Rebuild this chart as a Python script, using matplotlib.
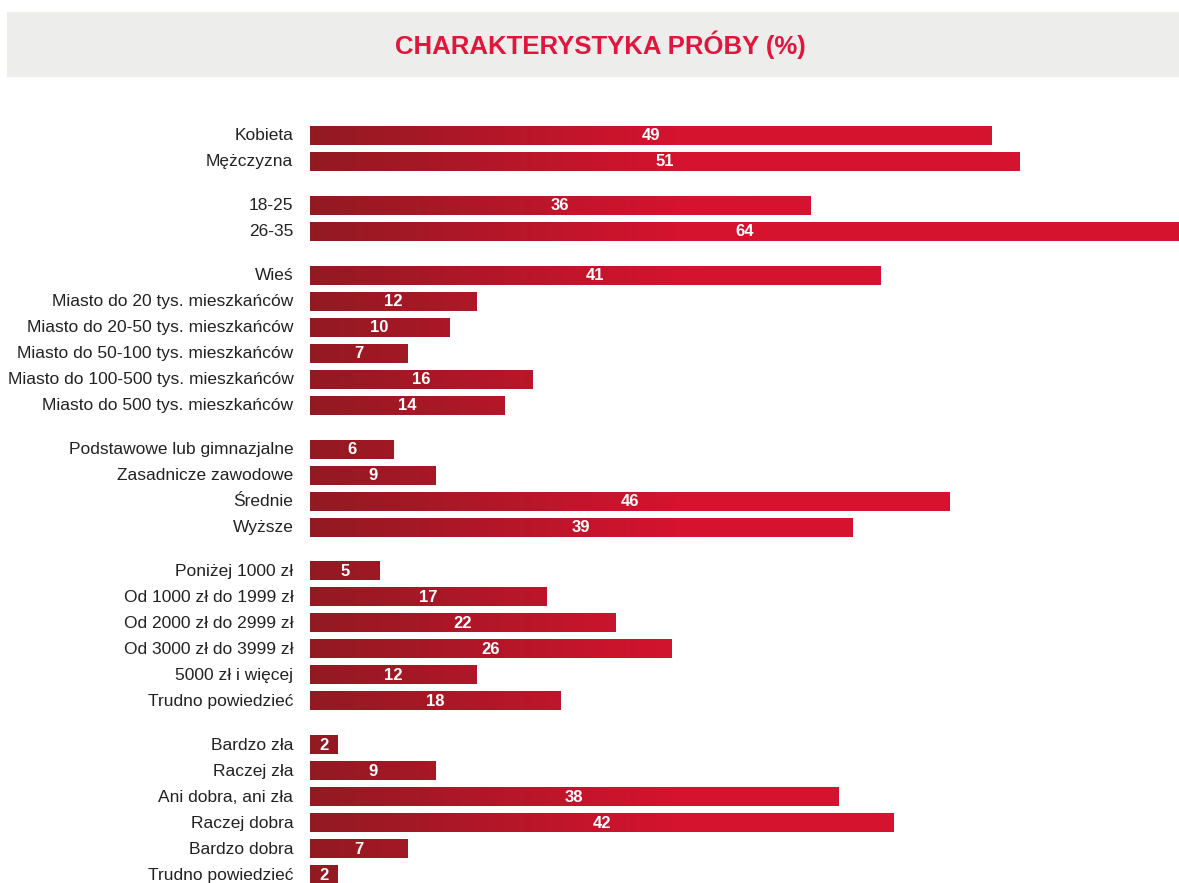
import numpy as np
import matplotlib.pyplot as plt
from matplotlib.colors import LinearSegmentedColormap
from matplotlib.patches import Rectangle
from matplotlib import font_manager

# --- dane ---
groups = [
    ["Kobieta", "Mężczyzna"],
    ["18-25", "26-35"],
    ["Wieś", "Miasto do 20 tys. mieszkańców", "Miasto do 20-50 tys. mieszkańców",
     "Miasto do 50-100 tys. mieszkańców", "Miasto do 100-500 tys. mieszkańców",
     "Miasto do 500 tys. mieszkańców"],
    ["Podstawowe lub gimnazjalne", "Zasadnicze zawodowe", "Średnie", "Wyższe"],
    ["Poniżej 1000 zł", "Od 1000 zł do 1999 zł", "Od 2000 zł do 2999 zł",
     "Od 3000 zł do 3999 zł", "5000 zł i więcej", "Trudno powiedzieć"],
    ["Bardzo zła", "Raczej zła", "Ani dobra, ani zła", "Raczej dobra",
     "Bardzo dobra", "Trudno powiedzieć"],
]
values = [
    [49, 51],
    [36, 64],
    [41, 12, 10, 7, 16, 14],
    [6, 9, 46, 39],
    [5, 17, 22, 26, 12, 18],
    [2, 9, 38, 42, 7, 2],
]
title = "CHARAKTERYSTYKA PRÓBY (%)"

names = [f.name for f in font_manager.fontManager.ttflist]
narrow = "Liberation Sans Narrow" if "Liberation Sans Narrow" in names else "Liberation Sans"
plt.rcParams['font.family'] = ['Liberation Sans', 'DejaVu Sans']

gap = 0.685
xmax = 62.5
grad_end = 27
cmap = LinearSegmentedColormap.from_list("czerwony", ["#921a22", "#d6132f"])

labels, vals, pos = [], [], []
y = 0.0
for gi, (g, v) in enumerate(zip(groups, values)):
    if gi > 0:
        y += gap
    for lab, val in zip(g, v):
        labels.append(lab)
        vals.append(val)
        pos.append(y)
        y += 1

fig = plt.figure(figsize=(11.79, 8.83), dpi=100)
fig.patch.set_facecolor("white")

# pasek tytułu
fig.patches.append(Rectangle((7 / 1179, 1 - 77 / 883), 1, 65 / 883,
                             transform=fig.transFigure, facecolor="#ededeb",
                             edgecolor="none", zorder=0))
fig.text(0.509, 1 - 45 / 883, title, ha="center", va="center", color="#e2163c",
         fontsize=18.5, fontweight="bold", family=[narrow, 'DejaVu Sans'])

pitch = 26.0
ax = fig.add_axes([310 / 1179, 0, 1 - 310 / 1179, (883 - 100) / 883])
top = pos[0] - (136 - 100) / pitch
bottom = pos[-1] + (883 - 875) / pitch
ax.axis("off")

h = 0.7
for lab, v, p in zip(labels, vals, pos):
    # gradient w skali bezwzględnej: ciemny przy 0, jasny od grad_end
    xs = np.linspace(0, v, 200)
    grad = np.clip(xs / grad_end, 0, 1)[None, :]
    ax.imshow(grad, cmap=cmap, vmin=0, vmax=1, aspect="auto",
              extent=(0, v, p + h / 2, p - h / 2), interpolation="bilinear", zorder=2)
    ax.text(min(v, xmax) / 2, p, str(v), ha="center", va="center", color="white",
            fontsize=12, fontweight="bold", zorder=4)
    ax.text(-1.2, p, lab, ha="right", va="center", color="#222222",
            fontsize=12.5, clip_on=False)

ax.set_xlim(0, xmax)
ax.set_ylim(bottom, top)

fig.savefig("out.png", dpi=100)
